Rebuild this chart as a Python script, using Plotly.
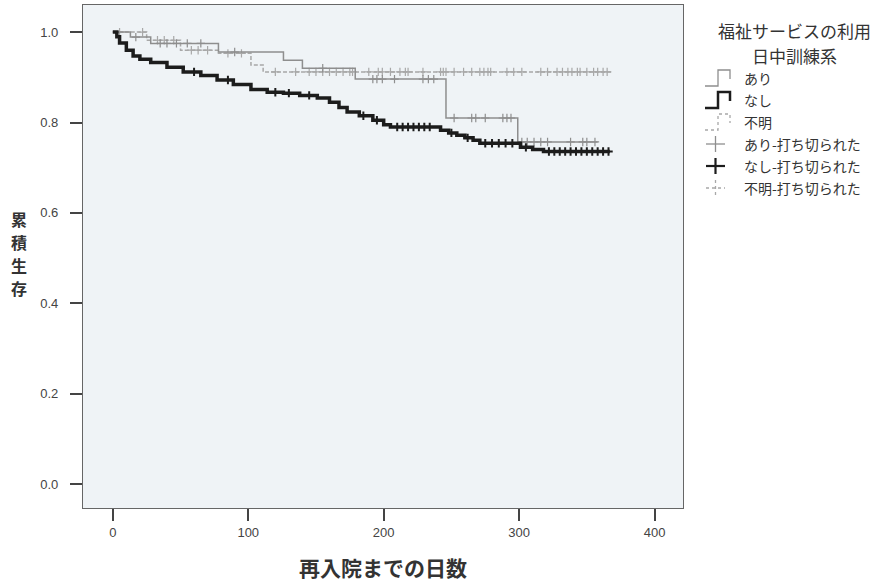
import plotly.graph_objects as go

# Kaplan-Meier step data: days until readmission vs cumulative survival
ari_t = [0, 13, 28, 78, 126, 140, 179, 246, 299, 358]
ari_s = [1.0, 0.989, 0.975, 0.956, 0.938, 0.920, 0.896, 0.810, 0.757, 0.757]

nashi_t = [0, 3, 5, 10, 15, 20, 28, 40, 52, 65, 77, 89, 102, 114, 126, 138, 151, 160,
           167, 173, 182, 192, 200, 205, 237, 242, 248, 254, 260, 266, 271, 299, 301,
           310, 318, 367]
nashi_s = [1.0, 0.99, 0.976, 0.96, 0.947, 0.94, 0.933, 0.922, 0.912, 0.904, 0.894,
           0.884, 0.873, 0.867, 0.865, 0.86, 0.854, 0.845, 0.833, 0.823, 0.815, 0.805,
           0.795, 0.79, 0.79, 0.783, 0.777, 0.772, 0.766, 0.761, 0.754, 0.754, 0.745,
           0.74, 0.736, 0.736]

fumei_t = [0, 25, 50, 78, 102, 111, 368]
fumei_s = [1.0, 0.982, 0.960, 0.953, 0.927, 0.912, 0.912]

# censoring times
ari_cens = [17, 35, 40, 47, 55, 65, 90, 155, 192, 195, 199, 208, 229, 233, 237, 252,
            265, 268, 275, 288, 291, 294, 302, 306, 311, 316, 321, 338, 347, 350, 356]
nashi_cens = [60, 85, 120, 130, 145, 185, 195, 210, 214, 218, 222, 226, 230, 234, 250,
              262, 275, 280, 285, 290, 295, 305, 322, 326, 330, 334, 338, 342, 346,
              350, 354, 358, 362, 366]
fumei_cens = [5, 22, 33, 38, 45, 58, 63, 70, 85, 95, 120, 135, 145, 150, 155, 160, 165,
              170, 175, 177, 189, 196, 199, 205, 212, 216, 218, 229, 242, 244, 246, 252,
              259, 265, 271, 274, 277, 279, 291, 296, 302, 316, 321, 328, 332, 336, 339,
              343, 345, 350, 355, 358, 362, 365]

x_ticks = [0, 100, 200, 300, 400]
y_ticks = [0.0, 0.2, 0.4, 0.6, 0.8, 1.0]


def step_at(times, surv, t):
    val = surv[0]
    for ti, si in zip(times, surv):
        if ti <= t:
            val = si
    return val


ARI_C = "#8e8e8e"
NASHI_C = "#1c1c1c"
FUMEI_C = "#a8a8a8"

fig = go.Figure()

fig.add_trace(go.Scatter(x=fumei_t, y=fumei_s, mode="lines", line_shape="hv",
                         line=dict(color=FUMEI_C, width=1.5, dash="4px,2px")))
fig.add_trace(go.Scatter(x=fumei_cens, y=[step_at(fumei_t, fumei_s, t) for t in fumei_cens],
                         mode="markers",
                         marker=dict(symbol="cross-thin", size=6,
                                     line=dict(color=FUMEI_C, width=1.2))))
fig.add_trace(go.Scatter(x=ari_t, y=ari_s, mode="lines", line_shape="hv",
                         line=dict(color=ARI_C, width=1.5)))
fig.add_trace(go.Scatter(x=ari_cens, y=[step_at(ari_t, ari_s, t) for t in ari_cens],
                         mode="markers",
                         marker=dict(symbol="cross-thin", size=6,
                                     line=dict(color=ARI_C, width=1.2))))
fig.add_trace(go.Scatter(x=nashi_t, y=nashi_s, mode="lines", line_shape="hv",
                         line=dict(color=NASHI_C, width=3.5)))
fig.add_trace(go.Scatter(x=nashi_cens, y=[step_at(nashi_t, nashi_s, t) for t in nashi_cens],
                         mode="markers",
                         marker=dict(symbol="cross-thin", size=6,
                                     line=dict(color=NASHI_C, width=2))))

W, H = 895, 584
L, R, T, B = 83, 683, 5, 508


def px(x):
    return (x - L) / (R - L)


def py(y):
    return (B - y) / (B - T)


FONT = "Noto Sans CJK JP"
shapes = []
annotations = []

# vertical axis title, one character per line
for i, ch in enumerate("累積生存"):
    annotations.append(dict(x=px(19), y=py(219 + 23 * i), xref="paper", yref="paper",
                            text=f"<b>{ch}</b>", showarrow=False,
                            font=dict(family=FONT, size=16, color="#333"),
                            xanchor="center", yanchor="middle"))
annotations.append(dict(x=px(383), y=py(567), xref="paper", yref="paper",
                        text="<b>再入院までの日数</b>", showarrow=False,
                        font=dict(family=FONT, size=21, color="#333"),
                        xanchor="center", yanchor="middle"))

# legend title
annotations.append(dict(x=px(794), y=py(31), xref="paper", yref="paper",
                        text="福祉サービスの利用", showarrow=False,
                        font=dict(family=FONT, size=17, color="#333"),
                        xanchor="center", yanchor="middle"))
annotations.append(dict(x=px(794), y=py(55), xref="paper", yref="paper",
                        text="日中訓練系", showarrow=False,
                        font=dict(family=FONT, size=17, color="#333"),
                        xanchor="center", yanchor="middle"))

legend_rows = [
    ("あり", 78, "step", ARI_C, 1.3, "solid"),
    ("なし", 100, "step", NASHI_C, 2.5, "solid"),
    ("不明", 122, "step", FUMEI_C, 1.3, "dot"),
    ("あり-打ち切られた", 144, "cross", ARI_C, 1.3, "solid"),
    ("なし-打ち切られた", 166, "cross", NASHI_C, 2.2, "solid"),
    ("不明-打ち切られた", 188, "cross", FUMEI_C, 1.3, "dot"),
]
for label, yc, kind, col, lw, dash in legend_rows:
    if kind == "step":
        path = (f"M {px(705)},{py(yc + 8)} L {px(718)},{py(yc + 8)} "
                f"L {px(718)},{py(yc - 8)} L {px(730)},{py(yc - 8)} L {px(730)},{py(yc + 1)}")
        shapes.append(dict(type="path", path=path, xref="paper", yref="paper",
                           line=dict(color=col, width=lw, dash=dash)))
    else:
        shapes.append(dict(type="line", xref="paper", yref="paper",
                           x0=px(706), x1=px(725), y0=py(yc), y1=py(yc),
                           line=dict(color=col, width=lw, dash=dash)))
        shapes.append(dict(type="line", xref="paper", yref="paper",
                           x0=px(715.5), x1=px(715.5), y0=py(yc - 8), y1=py(yc + 8),
                           line=dict(color=col, width=lw, dash=dash)))
    annotations.append(dict(x=px(742), y=py(yc), xref="paper", yref="paper",
                            text=label, showarrow=False,
                            font=dict(family=FONT, size=14, color="#333"),
                            xanchor="left", yanchor="middle"))

fig.update_layout(
    width=W, height=H, autosize=False,
    margin=dict(l=L, r=W - R, t=T, b=H - B, pad=0),
    paper_bgcolor="white", plot_bgcolor="#eff3f6",
    showlegend=False,
    shapes=shapes, annotations=annotations,
    font=dict(family=FONT),
)
fig.update_xaxes(range=[-22, 421], tickvals=x_ticks, ticks="outside", ticklen=12,
                 tickwidth=1.5, tickcolor="#444", showgrid=False, zeroline=False,
                 showline=True, linecolor="#666", linewidth=1.2, mirror=True,
                 tickfont=dict(family="Liberation Sans", size=13, color="#444"))
fig.update_yaxes(range=[-0.053, 1.06], tickvals=y_ticks, tickformat=".1f",
                 ticks="outside", ticklen=12, tickwidth=1.5, tickcolor="#444",
                 showgrid=False, zeroline=False, showline=True, linecolor="#666",
                 linewidth=1.2, mirror=True, ticklabelstandoff=9,
                 tickfont=dict(family="Liberation Sans", size=13, color="#444"))

fig.write_html("out.html")
